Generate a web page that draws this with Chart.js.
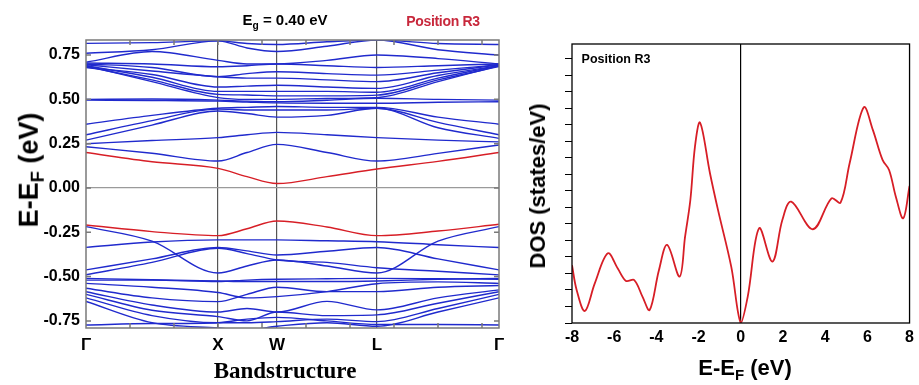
<!DOCTYPE html>
<html>
<head>
<meta charset="utf-8">
<script src="https://cdn.jsdelivr.net/npm/chart.js@4.4.0/dist/chart.umd.min.js"></script>
<style>
  body { margin:0; width:919px; height:385px; background:#fff; position:relative; overflow:hidden;
         font-family: Arial, "Liberation Sans", sans-serif; }
  .box { position:absolute; }
  .lbl { position:absolute; font-weight:bold; white-space:nowrap; color:#000; transform:translate(-50%,-50%); }
  .sub { font-size:0.68em; vertical-align:-0.3em; }
</style>
</head>
<body>
<div class="box" style="left:0;top:0;width:520px;height:385px"><canvas id="bandChart"></canvas></div>
<div class="box" style="left:520px;top:0;width:399px;height:385px"><canvas id="dosChart"></canvas></div>

<div class="lbl" style="left:285px;top:21px;font-size:15px">E<span class="sub">g</span> = 0.40 eV</div>
<div class="lbl" style="left:443px;top:21px;font-size:14px;color:#c8283c;letter-spacing:-0.3px">Position R3</div>
<div class="lbl" style="left:31px;top:170px;font-size:27px;transform:translate(-50%,-50%) rotate(-90deg)">E-E<span class="sub">F</span> (eV)</div>
<div class="lbl" style="left:285px;top:371px;font-size:23px;font-family:'Liberation Serif','Times New Roman',serif">Bandstructure</div>
<div class="lbl" style="left:538px;top:186px;font-size:22px;transform:translate(-50%,-50%) rotate(-90deg)">DOS (states/eV)</div>
<div class="lbl" style="left:745px;top:369px;font-size:22px">E-E<span class="sub">F</span> (eV)</div>
<div class="lbl" style="left:616px;top:59px;font-size:12.5px">Position R3</div>

<script>
// k-path (distance along Γ-X-W-L-Γ) and high symmetry points
const kPoints = [0, 66, 132, 161, 191, 241, 291, 352, 413];
const kLabelPos = [0, 132, 191, 291, 413];
const kLabels = ['Γ', 'X', 'W', 'L', 'Γ'];
const energyTicks = [-0.75, -0.5, -0.25, 0, 0.25, 0.5, 0.75];

// band edges (red)
const cbEdge = [0.200, 0.148, 0.111, 0.064, 0.025, 0.064, 0.107, 0.150, 0.200];
const vbEdge = [-0.209, -0.246, -0.269, -0.230, -0.186, -0.220, -0.269, -0.243, -0.205];

// other conduction bands
const condBands = [
  [0.233, 0.196, 0.152, 0.200, 0.246, 0.200, 0.152, 0.195, 0.243],
  [0.250, 0.268, 0.284, 0.300, 0.314, 0.300, 0.284, 0.270, 0.260],
  [0.270, 0.355, 0.434, 0.420, 0.400, 0.410, 0.450, 0.340, 0.280],
  [0.300, 0.380, 0.445, 0.440, 0.440, 0.440, 0.450, 0.370, 0.300],
  [0.360, 0.410, 0.450, 0.455, 0.460, 0.455, 0.455, 0.400, 0.360],
  [0.496, 0.494, 0.490, 0.485, 0.480, 0.478, 0.478, 0.484, 0.487],
  [0.500, 0.502, 0.496, 0.490, 0.487, 0.495, 0.506, 0.500, 0.496],
  [0.690, 0.600, 0.510, 0.500, 0.500, 0.505, 0.510, 0.600, 0.690],
  [0.685, 0.610, 0.528, 0.525, 0.520, 0.520, 0.524, 0.610, 0.685],
  [0.690, 0.625, 0.545, 0.545, 0.545, 0.545, 0.540, 0.620, 0.690],
  [0.680, 0.640, 0.570, 0.575, 0.580, 0.570, 0.562, 0.635, 0.690],
  [0.695, 0.660, 0.628, 0.620, 0.620, 0.610, 0.600, 0.650, 0.695],
  [0.700, 0.680, 0.628, 0.645, 0.656, 0.645, 0.637, 0.665, 0.695],
  [0.705, 0.700, 0.684, 0.690, 0.700, 0.690, 0.680, 0.690, 0.700],
  [0.710, 0.770, 0.720, 0.700, 0.700, 0.720, 0.750, 0.730, 0.700],
  [0.760, 0.780, 0.830, 0.790, 0.770, 0.800, 0.835, 0.780, 0.750],
  [0.816, 0.820, 0.830, 0.815, 0.810, 0.825, 0.835, 0.815, 0.810]
];

// other valence bands
const valBands = [
  [-0.218, -0.300, -0.480, -0.440, -0.406, -0.440, -0.480, -0.300, -0.218],
  [-0.335, -0.305, -0.293, -0.293, -0.293, -0.298, -0.303, -0.320, -0.336],
  [-0.462, -0.400, -0.336, -0.355, -0.378, -0.357, -0.336, -0.400, -0.462],
  [-0.490, -0.420, -0.340, -0.370, -0.406, -0.420, -0.450, -0.470, -0.490],
  [-0.510, -0.518, -0.525, -0.528, -0.528, -0.528, -0.525, -0.515, -0.510],
  [-0.520, -0.520, -0.528, -0.520, -0.515, -0.512, -0.510, -0.512, -0.515],
  [-0.538, -0.560, -0.590, -0.620, -0.613, -0.585, -0.540, -0.530, -0.538],
  [-0.566, -0.620, -0.641, -0.600, -0.560, -0.585, -0.585, -0.560, -0.550],
  [-0.585, -0.660, -0.700, -0.680, -0.700, -0.640, -0.688, -0.620, -0.575],
  [-0.600, -0.690, -0.726, -0.750, -0.700, -0.720, -0.716, -0.650, -0.585],
  [-0.620, -0.720, -0.760, -0.760, -0.754, -0.740, -0.754, -0.680, -0.600],
  [-0.640, -0.760, -0.790, -0.800, -0.780, -0.760, -0.780, -0.700, -0.620],
  [-0.773, -0.765, -0.760, -0.740, -0.730, -0.750, -0.770, -0.770, -0.773]
];

// density of states
const dosE = [-8.0, -7.78, -7.39, -6.92, -6.30, -5.83, -5.44, -5.05, -4.66, -4.32, -3.88, -3.49, -2.90, -2.64,
  -2.39, -2.17, -1.93, -1.46, -1.08, -0.45, 0.0, 0.33, 0.87, 1.50, 1.97, 2.39, 3.42, 4.30, 4.73, 5.16, 5.83,
  6.26, 6.72, 7.03, 7.35, 7.70, 8.0];
const dosVal = [3.5, 2.0, 0.73, 2.4, 4.22, 3.3, 2.55, 2.6, 1.6, 0.79, 3.2, 4.73, 2.81, 5.23,
  7.45, 10.7, 12.14, 9.07, 6.85, 3.4, 0.0, 1.6, 5.74, 3.72, 6.24, 7.35, 5.68, 7.55, 7.29, 9.68, 13.07,
  11.7, 9.88, 9.27, 7.65, 6.34, 8.3];
const dosTicks = [-8, -6, -4, -2, 0, 2, 4, 6, 8];

const BLUE = 'rgb(32,42,205)';
const RED = 'rgb(215,30,38)';

function band(values, color) {
  return {
    data: values.map((e, i) => ({x: kPoints[i], y: e})),
    borderColor: color,
    borderWidth: 1.4,
    pointRadius: 0,
    cubicInterpolationMode: 'monotone',
    fill: false
  };
}

const bandSets = [];
condBands.forEach(b => bandSets.push(band(b, BLUE)));
valBands.forEach(b => bandSets.push(band(b, BLUE)));
bandSets.push(band(cbEdge, RED));
bandSets.push(band(vbEdge, RED));

const framePlugin = {
  id: 'frame',
  afterDatasetsDraw(chart, args, opts) {
    const {ctx, chartArea: a} = chart;
    ctx.save();
    ctx.strokeStyle = opts.color;
    ctx.lineWidth = opts.width;
    ctx.strokeRect(a.left, a.top, a.right - a.left, a.bottom - a.top);
    if (opts.inner) {
      const xs = chart.scales.x, ys = chart.scales.y;
      ctx.beginPath();
      for (let k = 44; k < 413; k += 44) {
        const px = xs.getPixelForValue(k);
        ctx.moveTo(px, a.top); ctx.lineTo(px, a.top + 5);
        ctx.moveTo(px, a.bottom); ctx.lineTo(px, a.bottom - 5);
      }
      energyTicks.forEach(e => {
        const py = ys.getPixelForValue(e);
        ctx.moveTo(a.left, py); ctx.lineTo(a.left + 5, py);
        ctx.moveTo(a.right, py); ctx.lineTo(a.right - 5, py);
      });
      ctx.stroke();
    }
    ctx.restore();
  }
};

const symLines = [132, 191, 291];

new Chart(document.getElementById('bandChart'), {
  type: 'line',
  data: {datasets: bandSets},
  plugins: [framePlugin],
  options: {
    responsive: true,
    maintainAspectRatio: false,
    animation: false,
    layout: {padding: {top: 40, right: 21, left: 0, bottom: 0}},
    plugins: {
      legend: {display: false},
      tooltip: {enabled: false},
      frame: {color: '#7a7a7a', width: 1.5, inner: true}
    },
    scales: {
      x: {
        type: 'linear', min: 0, max: 413,
        afterBuildTicks: s => { s.ticks = kLabelPos.map(v => ({value: v})); },
        afterFit: s => { s.height = 57; },
        border: {display: false},
        grid: {
          drawTicks: false,
          color: c => (c.tick && symLines.includes(c.tick.value)) ? '#555' : 'transparent',
          lineWidth: 1.2
        },
        ticks: {
          autoSkip: false, maxRotation: 0, padding: 7, color: '#000',
          font: {size: 17, weight: 'bold', family: 'Arial'},
          callback: (v, i) => kLabels[i]
        }
      },
      y: {
        min: -0.79, max: 0.835,
        afterBuildTicks: s => { s.ticks = energyTicks.map(v => ({value: v})); },
        afterFit: s => { s.width = 86; },
        border: {display: false},
        grid: {
          drawTicks: false,
          color: c => (c.tick && c.tick.value === 0) ? '#9a9a9a' : 'transparent',
          lineWidth: 1.2
        },
        ticks: {
          padding: 6, color: '#000',
          font: {size: 16, weight: 'bold', family: 'Arial'},
          callback: v => v.toFixed(2)
        }
      }
    }
  }
});

new Chart(document.getElementById('dosChart'), {
  type: 'line',
  data: {
    datasets: [{
      data: dosE.map((e, i) => ({x: e, y: dosVal[i]})),
      borderColor: RED,
      borderWidth: 1.8,
      pointRadius: 0,
      tension: 0.35,
      fill: false
    }]
  },
  plugins: [framePlugin],
  options: {
    responsive: true,
    maintainAspectRatio: false,
    animation: false,
    layout: {padding: {top: 44, right: 5, left: 0, bottom: 0}},
    plugins: {
      legend: {display: false},
      tooltip: {enabled: false},
      frame: {color: '#000', width: 1.3, inner: false}
    },
    scales: {
      x: {
        type: 'linear', min: -8, max: 8,
        afterBuildTicks: s => { s.ticks = dosTicks.map(v => ({value: v})); },
        afterFit: s => { s.height = 62; },
        border: {display: false},
        grid: {
          drawTicks: false,
          color: c => (c.tick && c.tick.value === 0) ? '#000' : 'transparent',
          lineWidth: 1.2
        },
        ticks: {
          padding: 5, color: '#000',
          font: {size: 16, weight: 'bold', family: 'Arial'}
        }
      },
      y: {
        min: 0, max: 16.9,
        afterBuildTicks: s => { s.ticks = Array.from({length: 17}, (_, i) => ({value: i})); },
        afterFit: s => { s.width = 52; },
        border: {display: false},
        grid: {drawOnChartArea: false, drawTicks: true, tickLength: 7, tickColor: '#000', lineWidth: 1},
        ticks: {callback: () => ''}
      }
    }
  }
});
</script>
</body>
</html>
